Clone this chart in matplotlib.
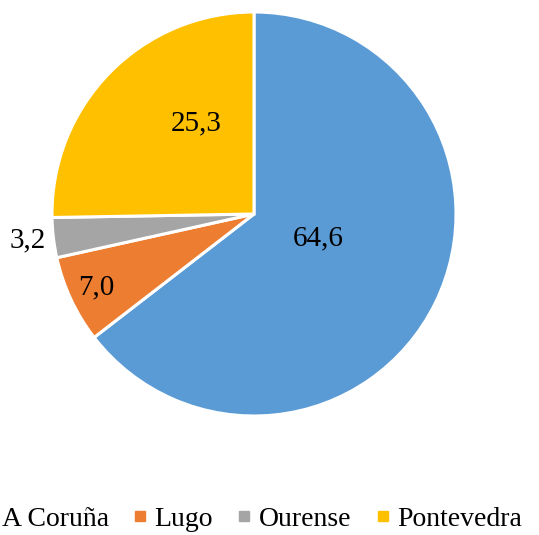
import matplotlib.pyplot as plt
from matplotlib.lines import Line2D
import numpy as np

provinces = ['A Coruña', 'Lugo', 'Ourense', 'Pontevedra']
values = [64.6, 7.0, 3.2, 25.3]
value_labels = ['64,6', '7,0', '3,2', '25,3']
colors = ['#5B9BD5', '#ED7D31', '#A5A5A5', '#FFC000']

# label placement (fraction of radius, angle shift in degrees)
label_r = [0.34, 0.86, 1.13, 0.53]
label_shift = [5, 0, 0, -13]

plt.rcParams['font.family'] = ['Liberation Serif', 'DejaVu Serif']

fig = plt.figure(figsize=(5.39, 5.35), dpi=100)
ax = fig.add_axes([52 / 539, 119 / 535, 404 / 539, 404 / 535])

wedges, _ = ax.pie(values, colors=colors, startangle=90, counterclock=False,
                   radius=1, wedgeprops=dict(edgecolor='white', linewidth=2.2))
ax.set_xlim(-1, 1)
ax.set_ylim(-1, 1)
ax.set_aspect('equal')

for w, txt, r, s in zip(wedges, value_labels, label_r, label_shift):
    ang = np.deg2rad((w.theta1 + w.theta2) / 2 + s)
    ax.text(r * np.cos(ang), r * np.sin(ang), txt, ha='center', va='center',
            fontsize=21, color='black')

handles = [Line2D([], [], marker='s', linestyle='none', markersize=7.5,
                  markerfacecolor=c, markeredgecolor=c) for c in colors]
fig.legend(handles, provinces, loc='center right', bbox_to_anchor=(547 / 539, 1 - 519 / 535),
           ncol=4, frameon=False, fontsize=20, handletextpad=0.3,
           columnspacing=0.9, handlelength=0.45)

fig.savefig('out.png', dpi=100)
